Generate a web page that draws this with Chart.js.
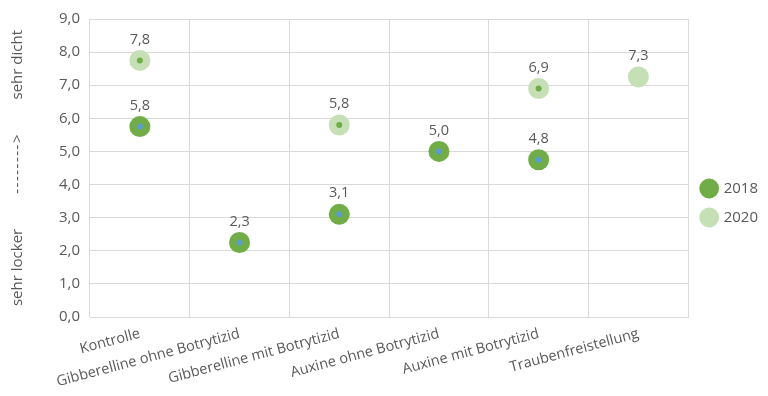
<!DOCTYPE html>
<html>
<head>
<meta charset="utf-8">
<script src="https://cdn.jsdelivr.net/npm/chart.js@4/dist/chart.umd.min.js"></script>
<style>
  html, body { margin: 0; padding: 0; background: #fff; }
  #wrap { width: 768px; height: 396px; }
</style>
</head>
<body>
<div id="wrap"><canvas id="chart"></canvas></div>
<script>
// categories and values
const categories = ["Kontrolle", "Gibberelline ohne Botrytizid", "Gibberelline mit Botrytizid",
    "Auxine ohne Botrytizid", "Auxine mit Botrytizid", "Traubenfreistellung"];
const values2018 = [5.75, 2.25, 3.1, 5.0, 4.75, null];
const values2020 = [7.75, null, 5.8, null, 6.9, 7.25];
// the small centre dots (none at Traubenfreistellung)
const dots2020 = [7.75, null, 5.8, null, 6.9, null];
const yTicks = [0, 1, 2, 3, 4, 5, 6, 7, 8, 9];

const textColor = "#595959";
const gridColor = "#D9D9D9";
const font = "'Open Sans', sans-serif";

function fmt(v) {
    return v.toFixed(1).replace(".", ",");
}

// value labels above the big markers
const valueLabels = {
    id: "valueLabels",
    afterDatasetsDraw(chart) {
        const ctx = chart.ctx;
        ctx.save();
        ctx.font = "14.5px " + font;
        ctx.fillStyle = textColor;
        ctx.textAlign = "center";
        ctx.textBaseline = "middle";
        [0, 1].forEach(function (di) {
            const meta = chart.getDatasetMeta(di);
            const data = chart.data.datasets[di].data;
            meta.data.forEach(function (pt, i) {
                if (data[i] === null) return;
                ctx.fillText(fmt(data[i]), pt.x, pt.y - 21);
            });
        });
        ctx.restore();
    }
};

const arrow = "-\u200A-\u200A-\u200A-\u200A-\u200A-\u200A-\u200A-\u200A>";

new Chart(document.getElementById("chart"), {
    type: "line",
    data: {
        labels: categories,
        datasets: [
            { label: "2018", data: values2018, showLine: false, pointRadius: 10.5, pointBorderWidth: 0,
              pointBackgroundColor: "#70AD47", backgroundColor: "#70AD47", borderColor: "#70AD47", order: 2 },
            { label: "2020", data: values2020, showLine: false, pointRadius: 10.5, pointBorderWidth: 0,
              pointBackgroundColor: "#C5E0B4", backgroundColor: "#C5E0B4", borderColor: "#C5E0B4", order: 3 },
            { label: "dot2018", data: values2018, showLine: false, pointRadius: 3, pointBorderWidth: 0,
              pointBackgroundColor: "#5B9BD5", borderColor: "#5B9BD5", order: 0 },
            { label: "dot2020", data: dots2020, showLine: false, pointRadius: 3, pointBorderWidth: 0,
              pointBackgroundColor: "#70AD47", borderColor: "#70AD47", order: 1 }
        ]
    },
    options: {
        responsive: true,
        maintainAspectRatio: false,
        animation: false,
        events: [],
        layout: { padding: { top: 10, right: 0, left: 0, bottom: 0 } },
        plugins: {
            tooltip: { enabled: false },
            legend: {
                position: "right",
                labels: {
                    filter: function (item) { return item.datasetIndex < 2; },
                    usePointStyle: true,
                    pointStyle: "circle",
                    boxWidth: 14,
                    boxHeight: 14,
                    padding: 14,
                    color: textColor,
                    font: { family: font, size: 15 }
                }
            }
        },
        scales: {
            x: {
                type: "category",
                offset: true,
                grid: { color: gridColor, offset: true, drawTicks: false },
                border: { color: gridColor },
                afterFit: function (scale) { scale.height = 79; },
                ticks: {
                    color: textColor,
                    font: { family: font, size: 14.5 },
                    minRotation: 15,
                    maxRotation: 15,
                    padding: 8,
                    autoSkip: false
                }
            },
            y: {
                min: 0,
                max: 9,
                afterBuildTicks: function (scale) {
                    scale.ticks = yTicks.map(function (v) { return { value: v }; });
                },
                afterFit: function (scale) { scale.width = 90; },
                grid: { color: gridColor, drawTicks: false },
                border: { display: false },
                ticks: {
                    color: textColor,
                    font: { family: font, size: 15 },
                    padding: 10,
                    callback: function (v) { return fmt(v); }
                },
                title: {
                    display: true,
                    text: "sehr locker         " + arrow + "         sehr dicht",
                    color: textColor,
                    font: { family: font, size: 15 },
                    padding: { top: 9, bottom: 4 }
                }
            }
        }
    },
    plugins: [valueLabels]
});
</script>
</body>
</html>
